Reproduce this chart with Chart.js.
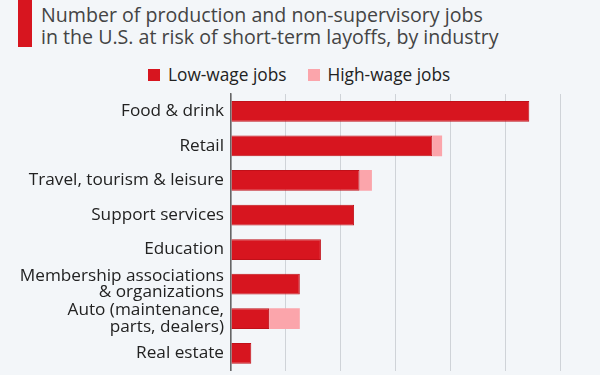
<!DOCTYPE html>
<html>
<head>
<meta charset="utf-8">
<script src="https://cdn.jsdelivr.net/npm/chart.js@4"></script>
<style>
  html, body { margin: 0; padding: 0; background: #f3f6f9; overflow: hidden; }
  body { width: 600px; height: 375px; position: relative; font-family: "Open Sans", sans-serif; }
  .bar { position: absolute; left: 18px; top: 0; width: 14px; height: 47px; background: #d7151f; }
  .title { position: absolute; left: 41px; top: 4px; font-size: 19.6px; line-height: 22px; color: #444; white-space: nowrap; }
  #legend { position: absolute; top: 63px; left: 148px; font-size: 17.3px; line-height: 24px; color: #222; display: flex; white-space: nowrap; }
  #legend span.item { display: flex; align-items: center; margin-right: 21px; }
  #legend span.box { width: 12px; height: 12px; margin-right: 8px; display: inline-block; }
  #wrap { position: absolute; left: 0; top: 0; width: 600px; height: 395px; }
</style>
</head>
<body>
<div class="bar"></div>
<div class="title">Number of production and non-supervisory jobs<br>in the U.S. at risk of short-term layoffs, by industry</div>
<div id="legend"></div>
<div id="wrap"><canvas id="jobsChart"></canvas></div>
<script>
// industries (top to bottom)
const industries = [
    'Food & drink',
    'Retail',
    'Travel, tourism & leisure',
    'Support services',
    'Education',
    ['Membership associations', '& organizations'],
    ['Auto (maintenance,', 'parts, dealers)'],
    'Real estate'
];
// jobs in millions
const lowWage = [10.88, 7.34, 4.69, 4.49, 3.28, 2.51, 1.39, 0.74];
const highWage = [0, 0.36, 0.45, 0, 0, 0, 1.12, 0];
const xTicks = [0, 2, 4, 6, 8, 10, 12];

const seriesNames = ['Low-wage jobs', 'High-wage jobs'];
const seriesColors = ['#d7151f', '#fba5ab'];

// legend in html
const legendEl = document.getElementById('legend');
seriesNames.forEach((name, i) => {
    legendEl.innerHTML += `<span class="item"><span class="box" style="background:${seriesColors[i]}"></span>${name}</span>`;
});

const ctx = document.getElementById('jobsChart').getContext('2d');
new Chart(ctx, {
    type: 'bar',
    data: {
        labels: industries,
        datasets: [{
            label: seriesNames[0],
            data: lowWage,
            backgroundColor: seriesColors[0],
            borderColor: '#c01019',
            borderWidth: 1,
            borderSkipped: 'left',
            barPercentage: 0.6,
            categoryPercentage: 1
        }, {
            label: seriesNames[1],
            data: highWage,
            backgroundColor: seriesColors[1],
            borderWidth: 0,
            barPercentage: 0.6,
            categoryPercentage: 1
        }]
    },
    options: {
        indexAxis: 'y',
        responsive: true,
        maintainAspectRatio: false,
        animation: false,
        layout: { padding: { top: 94, right: 40, left: 0, bottom: 0 } },
        plugins: {
            legend: { display: false },
            tooltip: { enabled: false }
        },
        scales: {
            x: {
                stacked: true,
                min: 0,
                max: 12,
                afterBuildTicks: scale => { scale.ticks = xTicks.map(v => ({ value: v })); },
                grid: { color: '#cfd3d8', lineWidth: 1, drawTicks: false },
                border: { display: false },
                ticks: { color: '#333', font: { family: 'Open Sans', size: 17, lineHeight: 1.2 }, padding: 2 }
            },
            y: {
                stacked: true,
                afterFit: scale => { scale.width = 231; },
                grid: { display: false, drawTicks: false },
                border: { display: true, color: '#666', width: 1.5 },
                ticks: {
                    autoSkip: false,
                    color: '#222',
                    padding: 7,
                    font: { family: 'Open Sans', size: 17.2, lineHeight: 0.95 }
                }
            }
        }
    }
});
</script>
</body>
</html>
